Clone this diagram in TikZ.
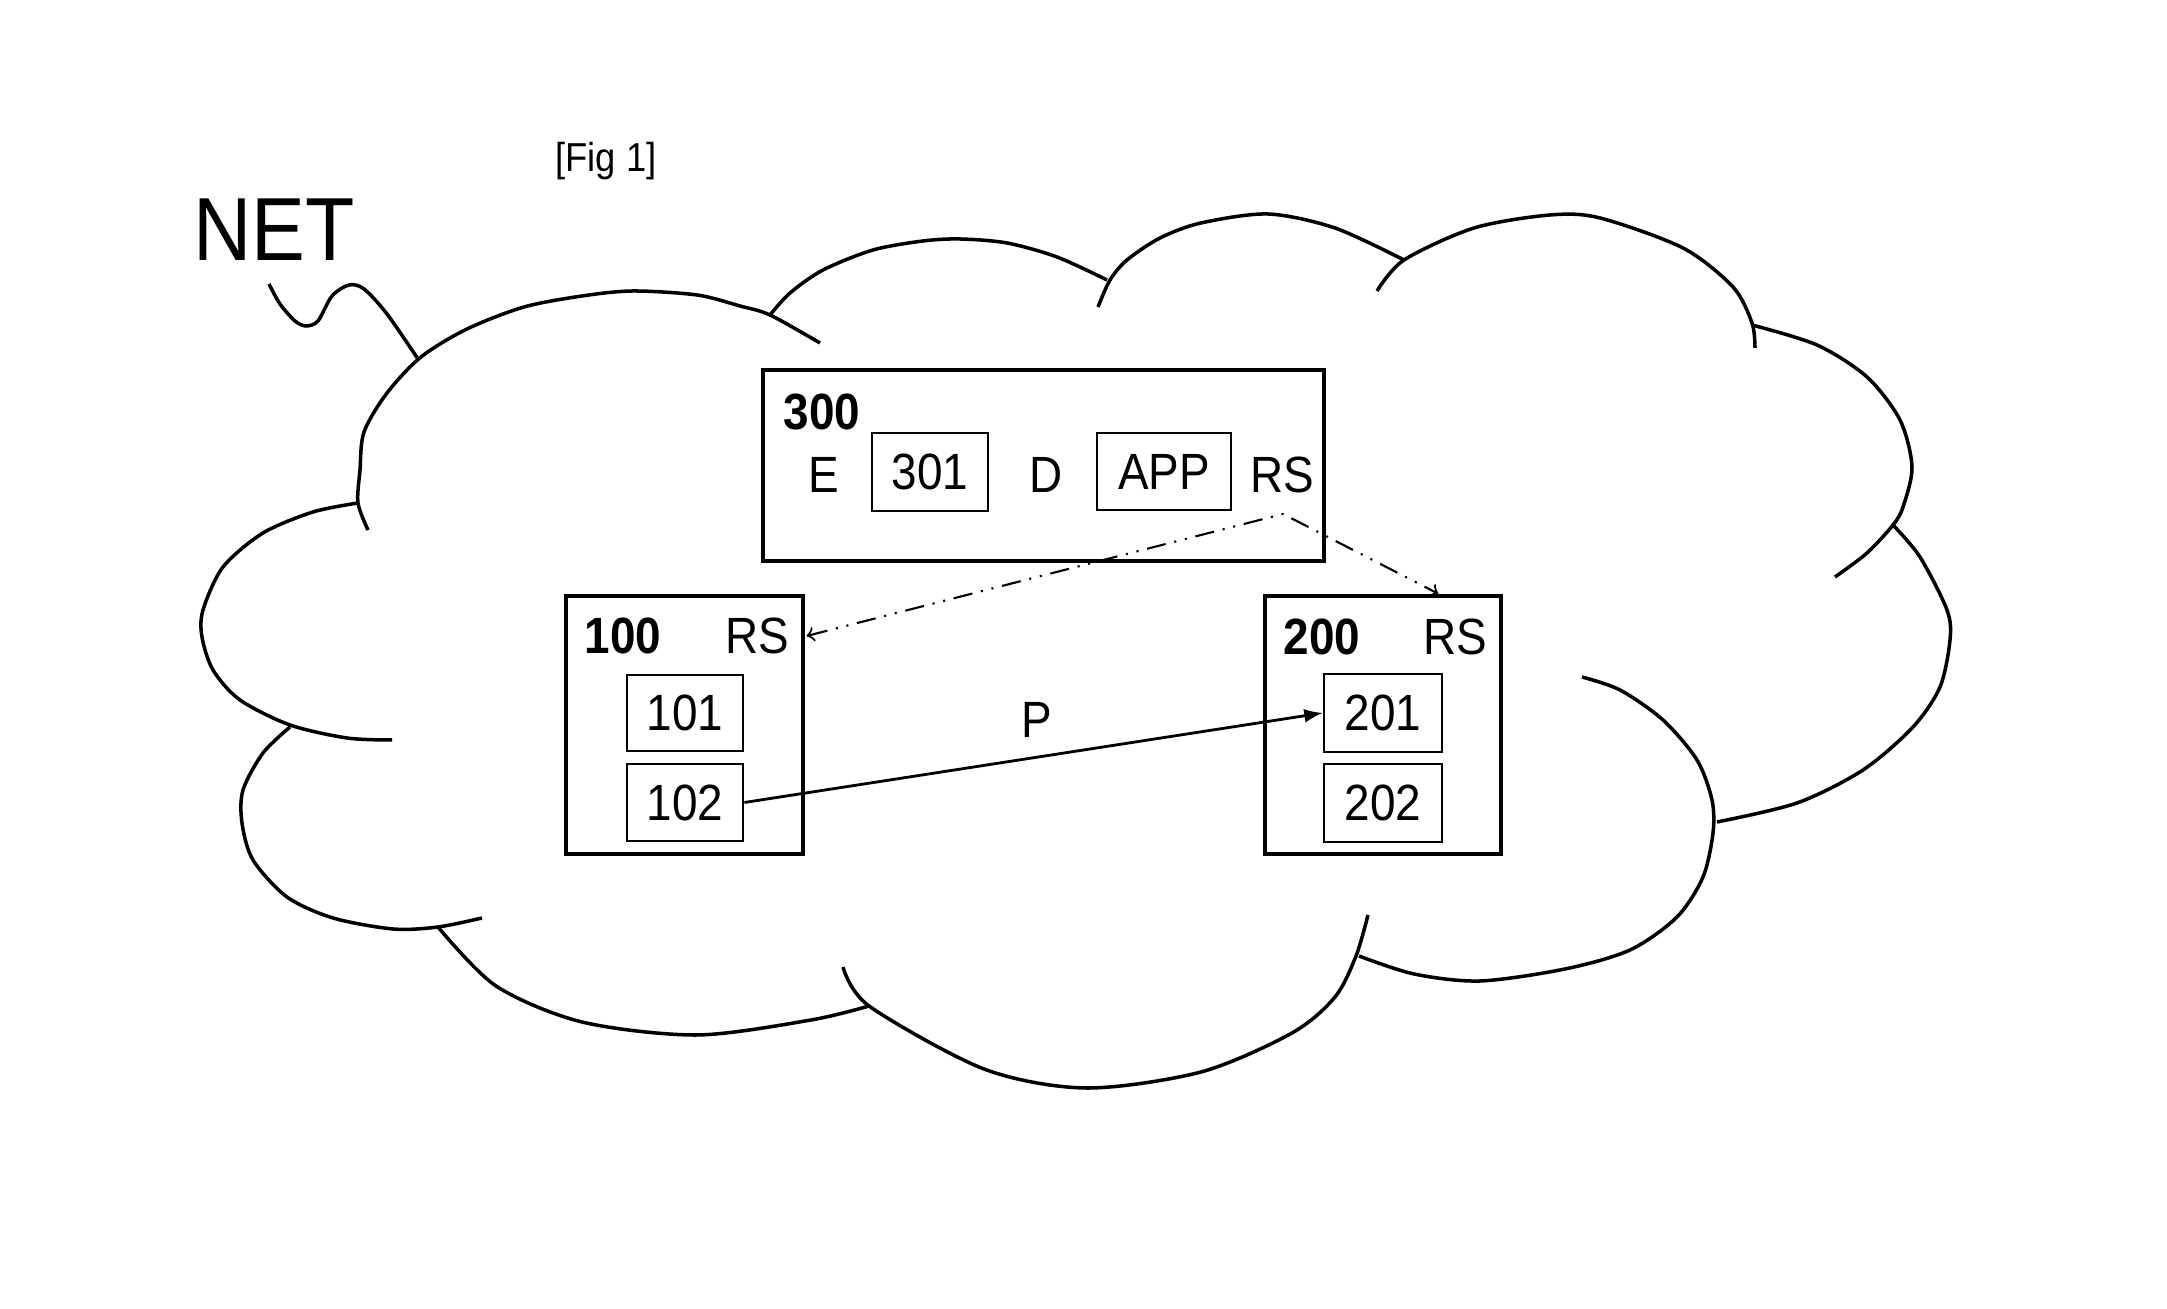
\documentclass[tikz,border=0pt]{standalone}
\usepackage{fontspec}
\setmainfont{Liberation Sans}[FakeStretch=0.9]
\usepackage{xcolor}
\definecolor{ink}{HTML}{000000}

\begin{document}
\begin{tikzpicture}[
		cloudline/.style={color=ink,line width=1pt},
		bigbox/.style={draw=ink,line width=1.3pt,inner sep=0pt},
		smallbox/.style={draw=ink,line width=0.8pt,inner sep=0pt,font=\fontsize{14.5}{17}\selectfont},
		boxtext/.style={inner sep=2pt,font=\fontsize{14.5}{17}\selectfont},
		boxnum/.style={inner sep=2pt,font=\fontsize{14.5}{17}\selectfont\bfseries},
		rsline/.style={color=ink,line width=0.6pt,dash pattern=on 5.5pt off 2.5pt on 0.6pt off 2.5pt on 0.6pt off 2.5pt},
		pline/.style={color=ink,line width=0.8pt}]
		\useasboundingbox (0,0) rectangle (21.67,-13.09);
		%
		\node[inner sep=0pt,font=\fontsize{25.5}{28}\selectfont] (net) at (2.74,-2.30) {NET};
		\node[inner sep=0pt,font=\fontsize{11.5}{13}\selectfont] (fig) at (6.06,-1.61) {[Fig 1]};
		%
		\draw[cloudline] plot[smooth] coordinates {(2.69,-2.84) (2.80,-3.04) (2.95,-3.21) (3.06,-3.26) (3.18,-3.21) (3.32,-2.96) (3.49,-2.85) (3.64,-2.89) (3.87,-3.14) (4.18,-3.59)}; %tail
		\draw[cloudline] plot[smooth] coordinates {(3.68,-5.30) (3.58,-5.03) (3.60,-4.70) (3.64,-4.32) (3.87,-3.93) (4.21,-3.57) (4.67,-3.29) (5.24,-3.07) (5.82,-2.96) (6.33,-2.91) (6.97,-2.95) (7.40,-3.06) (7.70,-3.15) (8.20,-3.43)}; %up 1
		\draw[cloudline] plot[smooth] coordinates {(7.70,-3.15) (7.90,-2.93) (8.23,-2.70) (8.73,-2.50) (9.23,-2.41) (9.60,-2.39) (10.07,-2.43) (10.57,-2.57) (11.07,-2.80)}; %up 2
		\draw[cloudline] plot[smooth] coordinates {(10.98,-3.07) (11.10,-2.80) (11.27,-2.60) (11.60,-2.38) (12.01,-2.23) (12.68,-2.14) (13.35,-2.28) (14.04,-2.60)}; %up 3
		\draw[cloudline] plot[smooth] coordinates {(13.77,-2.91) (14.04,-2.60) (14.74,-2.28) (15.50,-2.15) (16.00,-2.18) (16.83,-2.48) (17.33,-2.87) (17.52,-3.23) (17.55,-3.48)}; %up 4
		\draw[cloudline] plot[smooth] coordinates {(17.52,-3.25) (18.17,-3.45) (18.67,-3.77) (19.00,-4.20) (19.12,-4.67) (19.03,-5.07) (18.93,-5.25) (18.67,-5.53) (18.35,-5.77)}; %right 1
		\draw[cloudline] plot[smooth] coordinates {(18.93,-5.25) (19.20,-5.57) (19.47,-6.10) (19.50,-6.40) (19.40,-6.87) (19.13,-7.27) (18.63,-7.70) (17.97,-8.03) (17.17,-8.22)}; %right 2
		\draw[cloudline] plot[smooth] coordinates {(15.82,-6.77) (16.20,-6.90) (16.63,-7.20) (16.97,-7.60) (17.12,-8.00) (17.13,-8.33) (17.03,-8.77) (16.77,-9.17) (16.30,-9.50) (15.65,-9.69) (14.80,-9.81) (14.14,-9.74) (13.59,-9.56)}; %down 1
		\draw[cloudline] plot[smooth] coordinates {(13.68,-9.15) (13.56,-9.56) (13.35,-9.97) (12.92,-10.33) (12.01,-10.72) (10.86,-10.88) (9.84,-10.69) (8.69,-10.06) (8.43,-9.67)}; %down 2
		\draw[cloudline] plot[smooth] coordinates {(8.69,-10.06) (8.11,-10.20) (6.97,-10.35) (5.82,-10.22) (4.96,-9.86) (4.38,-9.27)}; %down 3
		\draw[cloudline] plot[smooth] coordinates {(2.90,-7.27) (2.63,-7.53) (2.43,-7.90) (2.42,-8.23) (2.53,-8.60) (2.87,-8.97) (3.33,-9.18) (3.93,-9.29) (4.38,-9.27) (4.82,-9.18)}; %left 1
		\draw[cloudline] plot[smooth] coordinates {(3.58,-5.03) (3.13,-5.12) (2.63,-5.33) (2.23,-5.67) (2.03,-6.10) (2.02,-6.37) (2.13,-6.70) (2.40,-7.00) (2.90,-7.25) (3.47,-7.38) (3.92,-7.40)}; %left 2
		%
		\node[bigbox,minimum width=5.61cm,minimum height=1.91cm] (box300) at (10.435,-4.655) {};
		\node[boxnum] (l300) at (8.22,-4.12) {300};
		\node[boxtext] (e) at (8.24,-4.75) {E};
		\node[smallbox,minimum width=1.16cm,minimum height=0.78cm] (n301) at (9.30,-4.72) {301};
		\node[boxtext] (d) at (10.46,-4.75) {D};
		\node[smallbox,minimum width=1.34cm,minimum height=0.77cm] (app) at (11.64,-4.715) {APP};
		\node[boxtext] (rs300) at (12.82,-4.75) {RS};
		%
		\node[bigbox,minimum width=2.37cm,minimum height=2.58cm] (box100) at (6.845,-7.25) {};
		\node[boxnum] (l100) at (6.23,-6.36) {100};
		\node[boxtext] (rs100) at (7.57,-6.36) {RS};
		\node[smallbox,minimum width=1.16cm,minimum height=0.76cm] (n101) at (6.85,-7.13) {101};
		\node[smallbox,minimum width=1.16cm,minimum height=0.77cm] (n102) at (6.85,-8.025) {102};
		%
		\node[bigbox,minimum width=2.36cm,minimum height=2.58cm] (box200) at (13.83,-7.25) {};
		\node[boxnum] (l200) at (13.22,-6.37) {200};
		\node[boxtext] (rs200) at (14.55,-6.37) {RS};
		\node[smallbox,minimum width=1.18cm,minimum height=0.78cm] (n201) at (13.83,-7.13) {201};
		\node[smallbox,minimum width=1.18cm,minimum height=0.78cm] (n202) at (13.83,-8.03) {202};
		%
		\node[boxtext] (p) at (10.37,-7.20) {P};
		\draw[pline,-latex] (n102.east) -- (n201.west);
		%
		\coordinate (fork) at (12.83,-5.14);
		\draw[rsline,<->] ([xshift=1mm]rs100.east) -- (fork) -- ([xshift=-6.5mm]box200.north east);
	\end{tikzpicture}
\end{document}
